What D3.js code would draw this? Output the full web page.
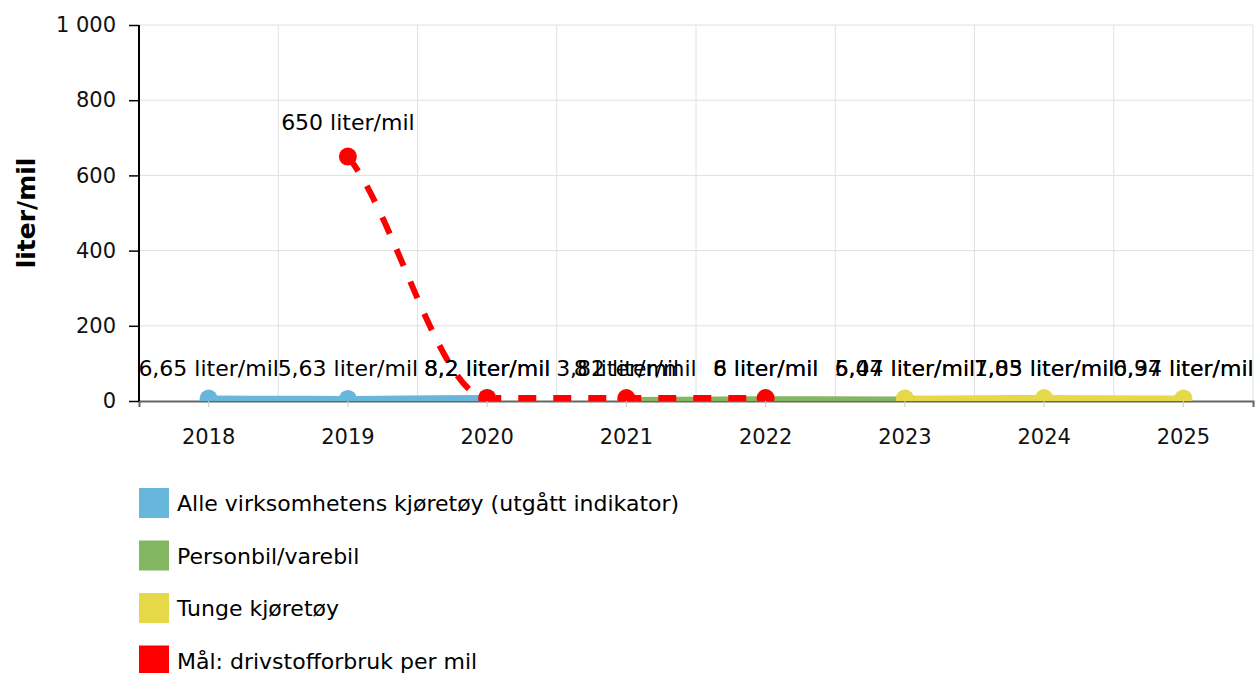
<!DOCTYPE html>
<html>
<head>
<meta charset="utf-8">
<script src="https://cdn.jsdelivr.net/npm/d3@7"></script>
<style>
  html, body { margin: 0; padding: 0; background: #fff; }
  svg { display: block; font-family: "DejaVu Sans", Verdana, sans-serif; }
</style>
</head>
<body>
<svg id="chart" width="1256" height="673"></svg>
<script>
// ---- data ----
const years = ["2018", "2019", "2020", "2021", "2022", "2023", "2024", "2025"];
const yTicks = [0, 200, 400, 600, 800, 1000];
const seriesNames = [
  "Alle virksomhetens kjøretøy (utgått indikator)",
  "Personbil/varebil",
  "Tunge kjøretøy",
  "Mål: drivstofforbruk per mil"
];
const seriesColors = ["#67b7dc", "#84b761", "#e5d94a", "#ff0000"];
const alleValues = [6.65, 5.63, 8.2, null, null, null, null, null];
const personbilValues = [null, null, null, 3.82, 6, 5.04, 1.05, 0.37];
const tungeValues = [null, null, null, null, null, 6.47, 7.83, 6.94];
const maalValues = [null, 650, 8.2, 8, 8, null, null, null];
const unit = "liter/mil";

const seriesValues = [alleValues, personbilValues, tungeValues, maalValues];

// ---- layout ----
const svg = d3.select("#chart");
const margin = { left: 139, right: 3, top: 25, bottom: 272 };
const W = 1256, H = 673;
const x0 = margin.left, x1 = W - margin.right;
const yTop = margin.top, yBot = H - margin.bottom;

const x = d3.scaleBand().domain(years).range([x0, x1]).padding(0);
const y = d3.scaleLinear().domain([0, 1000]).range([yBot, yTop]);
const fmt = v => d3.formatLocale({ decimal: ",", thousands: " ", grouping: [3], currency: ["", ""] }).format(",")(v);
const valFmt = v => String(v).replace(".", ",") + " " + unit;

// gridlines
const grid = svg.append("g");
grid.selectAll("line.h").data(yTicks.filter(d => d > 0)).join("line")
  .attr("x1", x0).attr("x2", x1)
  .attr("y1", d => y(d)).attr("y2", d => y(d))
  .attr("stroke", "#e0e0e0").attr("stroke-width", 1);
grid.selectAll("line.v").data(years.slice(1).concat(["__end"])).join("line")
  .attr("x1", d => d === "__end" ? x1 : x(d)).attr("x2", d => d === "__end" ? x1 : x(d))
  .attr("y1", yTop).attr("y2", yBot)
  .attr("stroke", "#e0e0e0").attr("stroke-width", 1);

// x axis
const xAxis = svg.append("g").attr("transform", `translate(0,${yBot})`)
  .call(d3.axisBottom(x).tickSize(6).tickPadding(22));
xAxis.select(".domain").attr("stroke", "#666").attr("stroke-width", 2);
xAxis.selectAll(".tick line").attr("stroke", "#ccc");
xAxis.selectAll(".tick text").attr("font-size", 21).attr("fill", "#111")
  .attr("font-family", "DejaVu Sans, Verdana, sans-serif");

// y axis
const yAxis = svg.append("g").attr("transform", `translate(${x0},0)`)
  .call(d3.axisLeft(y).tickValues(yTicks).tickFormat(fmt).tickSize(10).tickPadding(13));
yAxis.select(".domain").attr("stroke", "#000").attr("stroke-width", 2).attr("d", `M0,${yBot}V${yTop}`);
yAxis.selectAll(".tick line").attr("stroke", "#000").attr("stroke-width", 1.5);
yAxis.selectAll(".tick text").attr("font-size", 21).attr("fill", "#111")
  .attr("font-family", "DejaVu Sans, Verdana, sans-serif");

// y title
svg.append("text")
  .attr("transform", `translate(35,${(yTop + yBot) / 2}) rotate(-90)`)
  .attr("text-anchor", "middle")
  .attr("font-size", 25).attr("font-weight", "bold").attr("fill", "#000")
  .text(unit);

// custom smooth curve: monotone interior tangents, softened end tangents
function SmoothCurve(context) { this._context = context; }
SmoothCurve.prototype = {
  areaStart() { this._line = 0; }, areaEnd() { this._line = NaN; },
  lineStart() { this._xs = []; this._ys = []; },
  point(px, py) { this._xs.push(+px); this._ys.push(+py); },
  lineEnd() {
    const xs = this._xs, ys = this._ys, n = xs.length, c = this._context;
    if (!n) return;
    c.moveTo(xs[0], ys[0]);
    if (n === 1) return;
    const s = [];
    for (let i = 0; i < n - 1; i++) s.push((ys[i + 1] - ys[i]) / (xs[i + 1] - xs[i]));
    const m = new Array(n);
    m[0] = 0.7 * s[0];
    m[n - 1] = 0.7 * s[n - 2];
    for (let i = 1; i < n - 1; i++) {
      const a = s[i - 1], b = s[i];
      m[i] = a * b <= 0 ? 0 : Math.sign(a) * Math.min(Math.abs(a), Math.abs(b));
    }
    for (let i = 0; i < n - 1; i++) {
      const dx = (xs[i + 1] - xs[i]) / 3;
      c.bezierCurveTo(xs[i] + dx, ys[i] + m[i] * dx, xs[i + 1] - dx, ys[i + 1] - m[i + 1] * dx, xs[i + 1], ys[i + 1]);
    }
  }
};
const curveSmooth = ctx => new SmoothCurve(ctx);

// clip
svg.append("clipPath").attr("id", "plotclip").append("rect")
  .attr("x", x0).attr("y", yTop - 20).attr("width", x1 - x0 + 20).attr("height", yBot - yTop + 20);

const cx = d => x(d.year) + x.bandwidth() / 2;
const lineGen = d3.line().x(cx).y(d => y(d.v)).curve(curveSmooth);

const data = seriesValues.map((vals, si) => ({
  si,
  pts: vals.map((v, i) => ({ year: years[i], v })).filter(d => d.v !== null)
}));

const widths = [6, 5, 6, 6];
const lines = svg.append("g").attr("clip-path", "url(#plotclip)");
data.forEach(s => {
  lines.append("path").datum(s.pts)
    .attr("fill", "none")
    .attr("stroke", seriesColors[s.si])
    .attr("stroke-width", widths[s.si])
    .attr("stroke-dasharray", s.si === 3 ? "18,17" : null)
    .attr("d", lineGen);
});
data.forEach(s => {
  lines.append("g").selectAll("circle").data(s.pts).join("circle")
    .attr("cx", cx).attr("cy", d => y(d.v)).attr("r", 9)
    .attr("fill", seriesColors[s.si]);
});

// value labels (snapped to a 6px line grid so near-equal values share a line)
const labels = svg.append("g");
data.forEach(s => {
  labels.selectAll(null).data(s.pts).join("text")
    .attr("x", cx).attr("y", d => Math.round((y(d.v) - 22) / 6) * 6 - 2)
    .attr("text-anchor", "middle")
    .attr("font-size", 22).attr("fill", "#000")
    .text(d => valFmt(d.v));
});

// legend
const legend = svg.append("g");
seriesNames.forEach((name, i) => {
  const ly = 488 + i * 52.5;
  legend.append("rect").attr("x", 139).attr("y", ly).attr("width", 30).attr("height", 30)
    .attr("fill", seriesColors[i]);
  legend.append("text").attr("x", 177).attr("y", ly + 23)
    .attr("font-size", 22).attr("fill", "#000").text(name);
});
</script>
</body>
</html>
